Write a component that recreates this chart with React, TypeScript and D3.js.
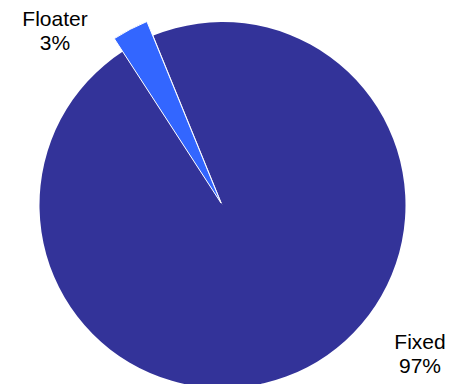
import React from "react";
import * as d3 from "d3";

const categories = ["Fixed", "Floater"];
const values = [97, 3];
const colors = ["#333399", "#3366FF"];
const labels = ["Fixed\n97%", "Floater\n3%"];

export default function App() {
  const W = 460, H = 384;
  const cx = 222.5, cy = 205, r = 183;
  const startDeg = -22.2;
  const pie = d3.pie<number>().sort(null).value(d => d)
    .startAngle(startDeg * Math.PI / 180)
    .endAngle((startDeg + 360) * Math.PI / 180);
  const arcs = pie(values);
  const arcFixed = d3.arc<d3.PieArcDatum<number>>().innerRadius(0).outerRadius(r);
  const arcFloat = d3.arc<d3.PieArcDatum<number>>().innerRadius(0).outerRadius(196);
  const labelPos = [
    { x: 420, y: 349 },
    { x: 55, y: 26 },
  ];
  return (
    <svg width={W} height={H} style={{ position: "absolute", left: 0, top: 0 }}>
      <rect width={W} height={H} fill="#fff" />
      <g transform={`translate(${cx},${cy})`}>
        <path d={arcFixed(arcs[0]) || ""} fill={colors[0]} />
      </g>
      <g transform={`translate(${cx - 1.5},${cy - 2})`}>
        <path d={arcFloat(arcs[1]) || ""} fill={colors[1]} stroke="#fff" strokeWidth={1} />
      </g>
      {categories.map((c, i) => (
        <text key={c} x={labelPos[i].x} y={labelPos[i].y} textAnchor="middle"
          fontFamily="Liberation Sans, Arial, sans-serif" fontSize={21} fill="#000">
          {labels[i].split("\n").map((t, j) => (
            <tspan key={j} x={labelPos[i].x} dy={j === 0 ? 0 : 24}>{t}</tspan>
          ))}
        </text>
      ))}
    </svg>
  );
}
